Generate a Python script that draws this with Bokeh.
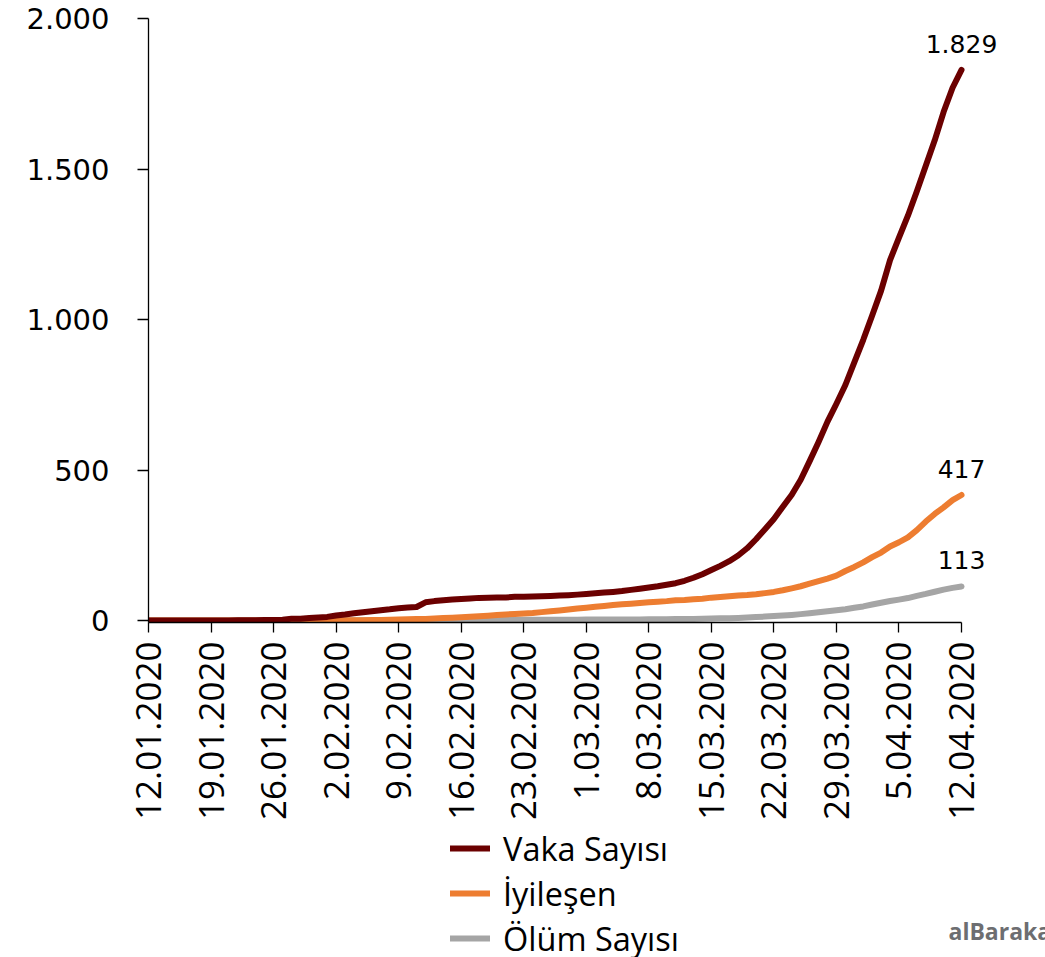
import math
from datetime import datetime, timedelta

from bokeh.core.properties import value
from bokeh.embed import file_html
from bokeh.layouts import column
from bokeh.models import (ColumnDataSource, FixedTicker, Label, LabelSet, Legend,
                          LegendItem, Range1d)
from bokeh.plotting import figure
from bokeh.resources import INLINE

# Daily cumulative figures (thousands), 12.01.2020 - 12.04.2020
vaka = [
    0.04, 0.04, 0.04, 0.04, 0.04, 0.05, 0.06, 0.12, 0.2, 0.29,
    0.56, 0.65, 0.94, 1.43, 2.12, 2.93, 5.58, 6.17, 8.23, 9.93,
    12.0, 16.8, 19.9, 23.9, 27.6, 30.8, 34.4, 37.1, 40.5, 43.0,
    45.0, 60.4, 64.5, 67.5, 69.5, 71.2, 73.3, 75.2, 75.7, 76.2,
    76.8, 78.6, 79.0, 79.5, 80.4, 81.4, 82.7, 84.1, 86.0,
    88.4, 90.3, 92.8, 95.1, 97.9, 101.8, 105.8, 109.8, 113.6, 118.6,
    124.0, 132.0, 142.0, 154.0, 167.5, 181.6, 197.1, 216.0, 240.0, 270.0,
    303.0, 337.0, 378.2, 418.0, 467.7, 529.6, 593.3, 660.7, 720.1, 782.4,
    857.5,
    932.6, 1013.5, 1095.9, 1197.4, 1272.1, 1345.0, 1426.1, 1511.1, 1595.4,
    1690.0, 1770.0, 1829.0,
]
iyilesen = [
    0.0, 0.0, 0.0, 0.0, 0.0, 0.0, 0.0, 0.0, 0.0, 0.0,
    0.03, 0.03, 0.04, 0.04, 0.05, 0.06, 0.11, 0.13, 0.14, 0.22,
    0.28, 0.47, 0.62, 0.85, 1.12, 1.49, 2.01, 2.62, 3.24, 3.95,
    4.68, 5.15, 6.3, 8.06, 9.4, 10.9, 12.6, 14.4, 16.1, 18.2,
    20.3, 22.0, 23.6, 25.2, 27.9, 30.4, 33.3, 36.7, 39.8,
    42.7, 45.6, 48.2, 51.2, 53.8, 55.9, 58.4, 60.7, 62.5, 64.4,
    67.0, 68.3, 70.3, 72.6, 76.0, 78.1, 80.8, 83.2, 84.9, 87.3,
    91.0, 95.0, 100.5, 107.0, 113.8, 122.2, 130.9, 139.4, 149.1, 164.6,
    178.0,
    193.2, 210.3, 225.8, 246.2, 260.0, 276.5, 300.1, 328.7, 354.0,
    376.1, 400.0, 417.0,
]
olum = [
    0.0, 0.0, 0.0, 0.0, 0.0, 0.0, 0.0, 0.0, 0.0, 0.01,
    0.02, 0.02, 0.03, 0.04, 0.06, 0.08, 0.13, 0.13, 0.17, 0.21,
    0.26, 0.36, 0.43, 0.49, 0.56, 0.63, 0.72, 0.81, 0.91, 1.01,
    1.11, 1.12, 1.37, 1.52, 1.67, 1.77, 1.87, 2.01, 2.12, 2.25,
    2.25, 2.46, 2.47, 2.63, 2.71, 2.77, 2.81, 2.87, 2.94,
    3.0, 3.09, 3.16, 3.25, 3.35, 3.46, 3.56, 3.8, 3.99, 4.26,
    4.62, 4.72, 5.4, 5.82, 6.44, 7.13, 7.91, 8.73, 9.87, 11.3,
    13.0, 14.6, 16.5, 18.6, 21.2, 24.0, 27.2, 30.7, 33.9, 37.6,
    42.1,
    46.8, 53.0, 58.8, 64.6, 69.4, 74.6, 81.9, 88.3, 95.5,
    102.5, 108.5, 113.0,
]

series_names = ["Vaka Sayısı", "İyileşen", "Ölüm Sayısı"]
series_cols = ["vaka", "iyilesen", "olum"]
series_colors = ["#6B0000", "#ED7D31", "#A5A5A5"]

x_tick_labels = [
    "12.01.2020", "19.01.2020", "26.01.2020", "2.02.2020", "9.02.2020",
    "16.02.2020", "23.02.2020", "1.03.2020", "8.03.2020", "15.03.2020",
    "22.03.2020", "29.03.2020", "5.04.2020", "12.04.2020",
]
y_ticks = [0, 500, 1000, 1500, 2000]

start = datetime(2020, 1, 12)
dates = [start + timedelta(days=i) for i in range(len(vaka))]
source = ColumnDataSource(dict(date=dates, vaka=vaka, iyilesen=iyilesen, olum=olum))

epoch = datetime(1970, 1, 1)
tick_ms = [(d - epoch).total_seconds() * 1000 for d in dates[::7]]

FONT_NUM = "DejaVu Sans"
FONT_TXT = "Open Sans"
LINE_W = 6
LEFT = 148
STRIP_W, STRIP_H = 1045, 129

# main chart; spare days on the right leave room for the end labels
p = figure(
    width=1045, height=828,
    x_axis_type="datetime",
    x_range=Range1d(dates[0], dates[-1] + timedelta(days=9.4)),
    y_range=Range1d(-6.6, 2000),
    output_backend="svg", toolbar_location=None,
    min_border_left=LEFT, min_border_right=0,
    min_border_top=18, min_border_bottom=206,
    background_fill_color="white", border_fill_color="white",
)
p.outline_line_color = None
p.grid.visible = False

# y axis
p.yaxis.ticker = FixedTicker(ticks=y_ticks)
p.yaxis.major_label_overrides = {t: f"{t:,}".replace(",", ".") for t in y_ticks}
p.yaxis.major_label_text_font = FONT_NUM
p.yaxis.major_label_text_font_size = "29px"
p.yaxis.major_label_text_color = "black"
p.yaxis.major_tick_out = 11
p.yaxis.major_tick_in = 0
p.yaxis.minor_tick_line_color = None
p.yaxis.axis_line_color = "black"
p.yaxis.axis_line_width = 1.3
p.yaxis.major_tick_line_width = 1.3
p.yaxis.major_label_standoff = 28

# x axis, line limited to the data span
p.xaxis.bounds = (dates[0], dates[-1])
p.xaxis.ticker = FixedTicker(ticks=tick_ms)
p.xaxis.major_label_overrides = dict(zip(tick_ms, x_tick_labels))
p.xaxis.major_label_orientation = math.pi / 2
p.xaxis.major_label_text_font = FONT_TXT
p.xaxis.major_label_text_font_size = "35px"
p.xaxis.major_label_text_color = "black"
p.xaxis.major_tick_out = 10
p.xaxis.major_tick_in = 0
p.xaxis.minor_tick_line_color = None
p.xaxis.axis_line_color = "black"
p.xaxis.axis_line_width = 1.3
p.xaxis.major_tick_line_width = 1.3
p.xaxis.major_label_standoff = 9

for col, color in zip(series_cols[::-1], series_colors[::-1]):
    p.line("date", col, source=source, line_width=LINE_W, line_color=color,
           line_join="round", line_cap="round")

# end-of-series value labels
last = ColumnDataSource(dict(
    x=[dates[-1]] * 3,
    y=[vaka[-1], iyilesen[-1], olum[-1]],
    text=[f"{int(round(v)):,}".replace(",", ".") for v in (vaka[-1], iyilesen[-1], olum[-1])],
))
p.add_layout(LabelSet(x="x", y="y", text="text", source=last,
                      text_align="center", text_baseline="alphabetic", y_offset=17,
                      text_font=value(FONT_NUM), text_font_size="25px",
                      text_color="black"))

# legend strip underneath; its x/y ranges are in strip pixels
q = figure(
    width=STRIP_W, height=STRIP_H,
    x_range=Range1d(LEFT, STRIP_W), y_range=Range1d(STRIP_H, 0),
    output_backend="svg", toolbar_location=None,
    x_axis_location=None, y_axis_location=None,
    min_border_left=LEFT, min_border_right=0,
    min_border_top=0, min_border_bottom=0,
    background_fill_color="white", border_fill_color="white",
)
q.outline_line_color = None
q.grid.visible = False

# legend keys: the same series, which fall outside this strip's ranges
keys = [q.line("date", col, source=source, line_width=LINE_W, line_color=c, line_cap="round")
        for col, c in zip(series_cols, series_colors)]
legend = Legend(
    items=[LegendItem(label=n, renderers=[r]) for n, r in zip(series_names, keys)],
    orientation="vertical", location=(450 - LEFT, -3.5),
    label_text_font=FONT_TXT, label_text_font_size="32.5px", label_text_color="black",
    glyph_width=40, glyph_height=40, label_height=40, spacing=0,
    label_standoff=13, padding=0, margin=0,
    border_line_color=None, background_fill_alpha=0,
)
q.add_layout(legend)

# publisher mark
q.add_layout(Label(x=948 - LEFT, y=27, x_units="screen", y_units="screen", text="alBaraka",
                   text_font=FONT_TXT, text_font_size="23px", text_font_style="bold",
                   text_color="#6D6E71", text_baseline="alphabetic"))
# large wordmark, anchored inside the strip and pushed down so only its top shows
mark = ColumnDataSource(dict(x=[772, 943], y=[120, 120], text=["BANK", "NO"],
                             color=["#6D6E71", "#B38A6C"]))
q.text(x="x", y="y", text="text", source=mark, text_color="color",
       text_font=value(FONT_TXT), text_font_size="61px", text_font_style="bold",
       text_baseline="alphabetic", text_align="left", y_offset=40)

open("out.html", "w").write(file_html(column(p, q, spacing=0), INLINE))
